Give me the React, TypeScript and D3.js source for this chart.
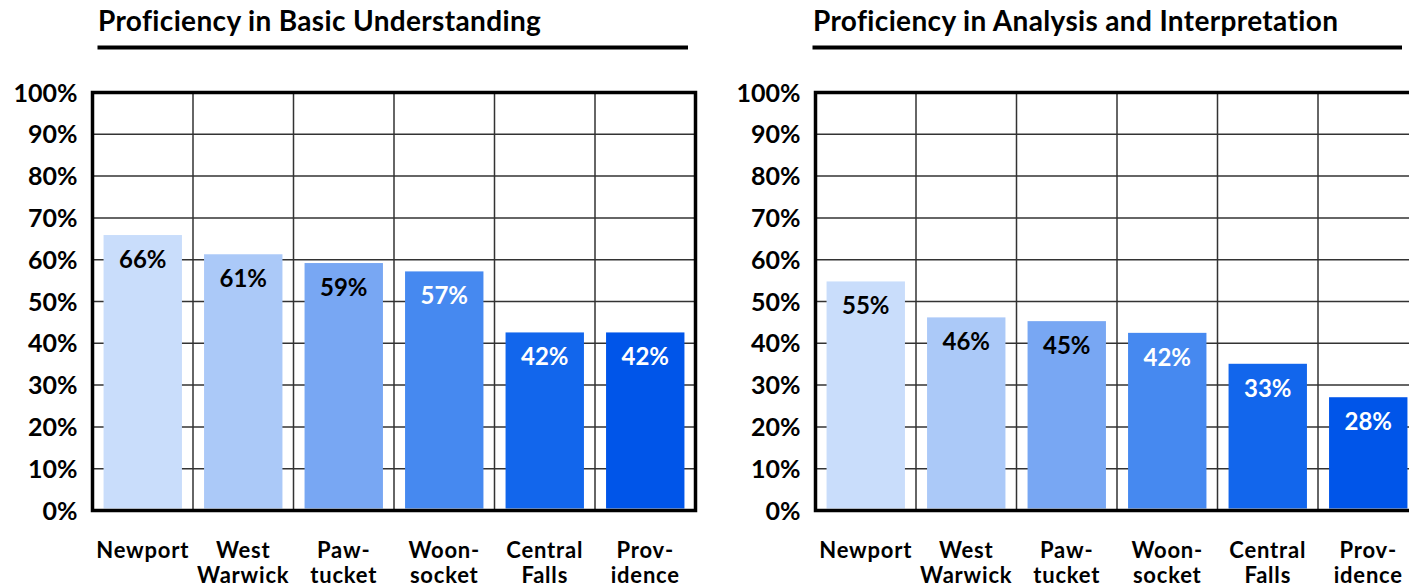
import React from "react";
import * as d3 from "d3";

const categoryLines: string[][] = [
  ["Newport"],
  ["West", "Warwick"],
  ["Paw-", "tucket"],
  ["Woon-", "socket"],
  ["Central", "Falls"],
  ["Prov-", "idence"],
];
const categories = ["Newport", "West Warwick", "Pawtucket", "Woonsocket", "Central Falls", "Providence"];

const basicTitle = "Proficiency in Basic Understanding";
const basicValues = [65.9, 61.3, 59.2, 57.2, 42.6, 42.6];
const basicLabels = ["66%", "61%", "59%", "57%", "42%", "42%"];

const analysisTitle = "Proficiency in Analysis and Interpretation";
const analysisValues = [54.8, 46.2, 45.3, 42.5, 35.1, 27.1];
const analysisLabels = ["55%", "46%", "45%", "42%", "33%", "28%"];

const yTicks = [0, 10, 20, 30, 40, 50, 60, 70, 80, 90, 100];
const barColors = ["#c9ddfb", "#abc9f8", "#78a7f3", "#4689f0", "#1266ec", "#0055e9"];
const labelColors = ["#000", "#000", "#000", "#fff", "#fff", "#fff"];

const FONT = "Lato, 'DejaVu Sans', sans-serif";

type PanelProps = {
  title: string;
  values: number[];
  labels: string[];
  x0: number;
  titleX: number;
  underlineX1: number;
};

function Panel({ title, values, labels, x0, titleX, underlineX1 }: PanelProps) {
  const plotW = 603;
  const yTop = 92.5;
  const yBot = 510.5;
  const x = d3
    .scaleBand<string>()
    .domain(categories)
    .range([x0, x0 + plotW])
    .paddingInner(0.22)
    .paddingOuter(0.11);
  const y = d3.scaleLinear().domain([0, 100]).range([yBot, yTop]);
  const step = x.step();
  const colStart = (i: number) => x0 + i * step;

  return (
    <g>
      <text
        x={titleX}
        y={31}
        fontFamily={FONT}
        fontWeight={700}
        fontSize={28}
        letterSpacing={0.35}
        fill="#000"
      >
        {title}
      </text>
      <line x1={titleX - 0.5} x2={underlineX1} y1={47.5} y2={47.5} stroke="#000" strokeWidth={4} />

      {/* horizontal gridlines */}
      {yTicks.map((t) => (
        <line key={"h" + t} x1={x0} x2={x0 + plotW} y1={y(t)} y2={y(t)} stroke="#333" strokeWidth={1.5} />
      ))}
      {/* vertical gridlines */}
      {categories.slice(1).map((c, i) => (
        <line key={"v" + c} x1={colStart(i + 1)} x2={colStart(i + 1)} y1={yTop} y2={yBot} stroke="#333" strokeWidth={1.5} />
      ))}

      {/* bars */}
      {categories.map((c, i) => (
        <rect
          key={"b" + c}
          x={x(c)!}
          y={y(values[i])}
          width={x.bandwidth()}
          height={yBot - 2 - y(values[i])}
          fill={barColors[i]}
        />
      ))}
      {categories.map((c, i) => (
        <text
          key={"l" + c}
          x={x(c)! + x.bandwidth() / 2}
          y={y(values[i]) + 33}
          textAnchor="middle"
          fontFamily={FONT}
          fontWeight={700}
          fontSize={24}
          fill={labelColors[i]}
        >
          {labels[i]}
        </text>
      ))}

      {/* frame */}
      <rect x={x0} y={yTop} width={plotW} height={yBot - yTop} fill="none" stroke="#000" strokeWidth={3.5} />

      {/* y tick labels */}
      {yTicks.map((t) => (
        <text
          key={"t" + t}
          x={x0 - 15}
          y={y(t)}
          dy="0.36em"
          textAnchor="end"
          fontFamily={FONT}
          fontWeight={700}
          fontSize={25}
          fill="#000"
        >
          {t + "%"}
        </text>
      ))}

      {/* category labels */}
      {categories.map((c, i) => (
        <text
          key={"c" + c}
          x={x(c)! + x.bandwidth() / 2}
          y={558}
          textAnchor="middle"
          fontFamily={FONT}
          fontWeight={700}
          fontSize={22}
          letterSpacing={0.8}
          fill="#000"
        >
          {categoryLines[i].map((ln, j) => (
            <tspan key={j} x={x(c)! + x.bandwidth() / 2} dy={j === 0 ? 0 : 25}>
              {ln}
            </tspan>
          ))}
        </text>
      ))}
    </g>
  );
}

export default function App() {
  return (
    <div style={{ position: "absolute", left: 0, top: 0 }}>
      <svg width={1409} height={586} style={{ display: "block", background: "#fff" }}>
        <Panel title={basicTitle} values={basicValues} labels={basicLabels} x0={92.5} titleX={98} underlineX1={688} />
        <Panel
          title={analysisTitle}
          values={analysisValues}
          labels={analysisLabels}
          x0={815.5}
          titleX={813}
          underlineX1={1402}
        />
      </svg>
    </div>
  );
}
